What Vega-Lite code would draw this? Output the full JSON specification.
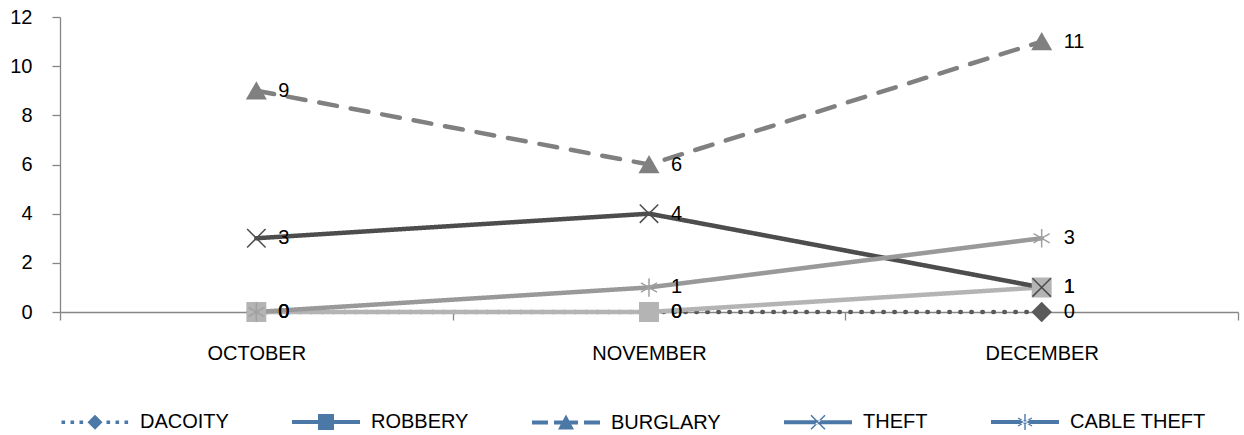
{
  "$schema": "https://vega.github.io/schema/vega-lite/v6.json",
  "width": 1178,
  "height": 295,
  "autosize": {"type": "none"},
  "padding": {"left": 60, "top": 17, "right": 6, "bottom": 123},
  "background": "white",
  "config": {
    "view": {"stroke": null},
    "font": "Liberation Sans",
    "axis": {"labelFont": "Liberation Sans", "labelFontSize": 20, "labelColor": "#000000", "domainColor": "#868686", "tickColor": "#868686", "domainWidth": 1.3, "tickWidth": 1.3, "grid": false, "title": null},
    "legend": {"labelFont": "Liberation Sans", "labelFontSize": 20, "labelColor": "#000000"}
  },
  "data": {
    "values": [
      {"series": "DACOITY", "month": "OCTOBER", "value": 0},
      {"series": "DACOITY", "month": "NOVEMBER", "value": 0},
      {"series": "DACOITY", "month": "DECEMBER", "value": 0},
      {"series": "ROBBERY", "month": "OCTOBER", "value": 0},
      {"series": "ROBBERY", "month": "NOVEMBER", "value": 0},
      {"series": "ROBBERY", "month": "DECEMBER", "value": 1},
      {"series": "BURGLARY", "month": "OCTOBER", "value": 9},
      {"series": "BURGLARY", "month": "NOVEMBER", "value": 6},
      {"series": "BURGLARY", "month": "DECEMBER", "value": 11},
      {"series": "THEFT", "month": "OCTOBER", "value": 3},
      {"series": "THEFT", "month": "NOVEMBER", "value": 4},
      {"series": "THEFT", "month": "DECEMBER", "value": 1},
      {"series": "CABLE THEFT", "month": "OCTOBER", "value": 0},
      {"series": "CABLE THEFT", "month": "NOVEMBER", "value": 1},
      {"series": "CABLE THEFT", "month": "DECEMBER", "value": 3}
    ]
  },
  "encoding": {
    "x": {
      "field": "month", "type": "nominal", "sort": ["OCTOBER", "NOVEMBER", "DECEMBER"],
      "scale": {"paddingInner": 0, "paddingOuter": 0},
      "axis": {"labelAngle": 0, "tickBand": "extent", "tickSize": 8, "labelPadding": 23}
    },
    "y": {
      "field": "value", "type": "quantitative",
      "scale": {"domain": [0, 12], "nice": false},
      "axis": {"values": [0, 2, 4, 6, 8, 10, 12], "tickSize": 8, "labelPadding": 20}
    }
  },
  "layer": [
    {
      "mark": {"type": "line", "strokeWidth": 4.5, "strokeCap": "round"},
      "encoding": {
        "color": {
          "field": "series", "type": "nominal", "legend": null,
          "scale": {"domain": ["DACOITY", "ROBBERY", "BURGLARY", "THEFT", "CABLE THEFT"], "range": ["#5a5a5a", "#b4b4b4", "#808080", "#4d4d4d", "#999999"]}
        },
        "strokeDash": {
          "field": "series", "type": "nominal", "legend": null,
          "scale": {"domain": ["DACOITY", "ROBBERY", "BURGLARY", "THEFT", "CABLE THEFT"], "range": [[0.5, 10.5], [1, 0], [18, 14], [1, 0], [1, 0]]}
        }
      }
    },
    {
      "mark": {"type": "point", "filled": true, "size": 340, "strokeWidth": 1.5, "opacity": 1},
      "encoding": {
        "color": {"field": "series", "type": "nominal", "legend": null},
        "stroke": {
          "field": "series", "type": "nominal", "legend": null,
          "scale": {"domain": ["DACOITY", "ROBBERY", "BURGLARY", "THEFT", "CABLE THEFT"], "range": ["#5a5a5a", "#b4b4b4", "#808080", "#4d4d4d", "#a0a0a0"]}
        },
        "shape": {
          "field": "series", "type": "nominal", "legend": null,
          "scale": {"domain": ["DACOITY", "ROBBERY", "BURGLARY", "THEFT", "CABLE THEFT"], "range": ["diamond", "square", "triangle-up", "M-1,-1L1,1M-1,1L1,-1", "M0,-1V1M-0.87,-0.5L0.87,0.5M-0.87,0.5L0.87,-0.5"]}
        }
      }
    },
    {
      "mark": {"type": "text", "align": "left", "baseline": "middle", "dx": 22, "fontSize": 20, "color": "#000000", "font": "Liberation Sans"},
      "encoding": {"text": {"field": "value", "type": "quantitative"}}
    },
    {
      "mark": {"type": "point", "filled": true, "opacity": 0},
      "encoding": {
        "shape": {
          "field": "series", "type": "nominal",
          "scale": {"domain": ["DACOITY", "ROBBERY", "BURGLARY", "THEFT", "CABLE THEFT"], "range": [
            "M-0.95,-0.18h0.36v0.36h-0.36z M-0.05,-0.18h0.36v0.36h-0.36z M0.85,-0.18h0.36v0.36h-0.36z M2.4,-0.75L3.15,0L2.4,0.75L1.65,0Z M3.55,-0.18h0.36v0.36h-0.36z M4.45,-0.18h0.36v0.36h-0.36z M5.35,-0.18h0.36v0.36h-0.36z",
            "M-1,-0.2H5.8V0.2H-1Z M1.6,-0.8H3.2V0.8H1.6Z",
            "M-1,-0.2H0.6V0.2H-1Z M1.2,-0.2H3.6V0.2H1.2Z M4.2,-0.2H5.8V0.2H4.2Z M2.4,-0.8L3.2,0.7L1.6,0.7Z",
            "M-1,-0.2H5.8V0.2H-1Z M1.753,-0.753L3.153,0.647L3.047,0.753L1.647,-0.647Z M1.753,0.753L3.153,-0.647L3.047,-0.753L1.647,0.647Z",
            "M-1,-0.2H5.8V0.2H-1Z M2.33,-0.8H2.47V0.8H2.33Z M1.665,-0.339L3.065,0.461L3.135,0.339L1.735,-0.461Z M1.735,0.461L3.135,-0.339L3.065,-0.461L1.665,0.339Z"
          ]},
          "legend": {
            "orient": "bottom", "direction": "horizontal", "title": null, "symbolSize": 400, "symbolOpacity": 1, "labelOffset": 58, "columnPadding": 60, "offset": 48,
            "encode": {"symbols": {"fill": {"value": "#7a7a7a"}, "opacity": {"value": 1}}}
          }
        }
      }
    }
  ],
  "resolve": {"scale": {"shape": "independent"}}
}
